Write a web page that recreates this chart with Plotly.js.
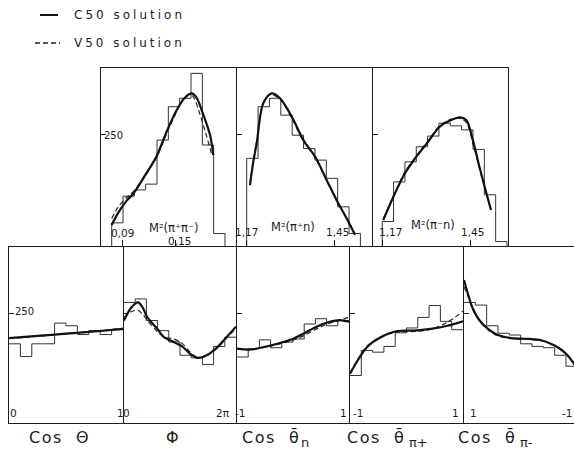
<!DOCTYPE html>
<html><head><meta charset="utf-8">
<script src="https://cdn.plot.ly/plotly-3.0.1.min.js"></script>
<style>
html,body{margin:0;padding:0;background:#fff;}
#chart{width:574px;height:454px;}
g.annotation[data-index="0"] text.annotation-text,
g.annotation[data-index="1"] text.annotation-text{letter-spacing:3px;}
g.annotation[data-index="2"] text.annotation-text,
g.annotation[data-index="3"] text.annotation-text,
g.annotation[data-index="4"] text.annotation-text,
g.annotation[data-index="5"] text.annotation-text,
g.annotation[data-index="6"] text.annotation-text{letter-spacing:1.5px;}
</style></head>
<body><div id="chart"></div>
<script>
// ---------- data ----------
const legendLabels = ['C50 solution', 'V50 solution'];
const axisTitles = ['Cos\u00a0\u00a0Θ', 'Φ', 'Cos\u00a0\u00a0θ̄', 'Cos\u00a0\u00a0θ̄', 'Cos\u00a0\u00a0θ̄'];
const axisSubscripts = ['', '', 'n', 'π+', 'π-'];
const massTitles = ['M²(π⁺π⁻)', 'M²(π⁺n)', 'M²(π⁻n)'];
const topTickLabels = [['0,09', '0,15'], ['1,17', '1,45'], ['1,17', '1,45']];
const topTickVals = [[0.09, 0.15], [1.17, 1.45], [1.17, 1.45]];
const bottomTickLabels = [['0', '1'], ['0', '2π'], ['-1', '1'], ['-1', '1'], ['1', '-1']];
const yTickVal = 250;

// M^2(pi+ pi-)
const m2ppBins = [0.0776, 0.2052];
const m2ppCounts = [52, 112, 126, 139, 238, 313, 332, 388, 227, 28];
const m2ppC50x = [0.0776, 0.085, 0.095, 0.102, 0.115, 0.128, 0.1395, 0.151, 0.160, 0.1677, 0.173, 0.179, 0.1883, 0.192];
const m2ppC50y = [47, 75, 103, 118, 158, 201, 257, 306, 333, 343, 334, 305, 250, 204];
const m2ppV50x = [0.0776, 0.085, 0.095, 0.102, 0.115, 0.128, 0.14, 0.151, 0.158, 0.165, 0.170, 0.176, 0.183, 0.1905];
const m2ppV50y = [62, 88, 110, 122, 157, 199, 255, 303, 330, 342, 334, 302, 257, 204];

// M^2(pi+ n)
const m2pnBins = [1.17, 1.531];
const m2pnCounts = [197, 313, 332, 294, 249, 219, 193, 152, 88, 28];
const m2pnC50x = [1.1805, 1.19, 1.2017, 1.2227, 1.2494, 1.2757, 1.313, 1.35, 1.387, 1.424, 1.4557, 1.4925, 1.5138];
const m2pnC50y = [137, 185, 231, 321, 343, 332, 291, 238, 201, 148, 103, 55, 25];
const m2pnV50x = [1.1805, 1.19, 1.2017, 1.2227, 1.245, 1.2757, 1.313, 1.35, 1.387, 1.424, 1.4557, 1.4925, 1.5138];
const m2pnV50y = [140, 188, 236, 322, 340, 330, 287, 236, 199, 147, 101, 56, 27];

// M^2(pi- n)
const m2mnBins = [1.17, 1.568];
const m2mnCounts = [55, 144, 189, 223, 247, 276, 270, 261, 217, 115, 10];
const m2mnC50x = [1.173, 1.2103, 1.242, 1.279, 1.316, 1.353, 1.390, 1.4167, 1.438, 1.459, 1.480, 1.501, 1.517];
const m2mnC50y = [58, 118, 163, 201, 234, 268, 283, 289, 283, 238, 178, 122, 81];
const m2mnV50y = [60, 120, 166, 203, 236, 270, 285, 287, 278, 232, 175, 120, 82];

// cos Theta
const cthBins = [0, 1];
const cthCounts = [180, 151, 180, 180, 227, 221, 201, 210, 201, 212];
const cthCurveX = [0, 0.25, 0.5, 0.75, 1];
const cthC50y = [193, 198, 203, 208, 214];
const cthV50y = [192, 197, 203, 209, 215];

// Phi
const phiBins = [0, 2 * Math.PI];
const phiCounts = [274, 282, 233, 210, 184, 154, 148, 133, 174, 195];
const phiCurveX = [0, 0.4, 0.79, 1.05, 1.31, 1.87, 2.24, 2.79, 3.26, 3.72, 4.14, 4.64, 5.2, 5.75, 6.283];
const phiC50y = [233, 262, 274, 262, 240, 214, 195, 184, 174, 157, 148, 154, 171, 195, 219];
const phiV50y = [240, 253, 256, 247, 233, 208, 196, 191, 181, 161, 149, 153, 169, 193, 215];

// cos theta_n
const ctnBins = [-1, 1];
const ctnCounts = [150, 169, 189, 171, 184, 191, 225, 237, 221, 233];
const ctnCurveX = [-1, -0.758, -0.405, -0.007, 0.184, 0.42, 0.655, 0.832, 1];
const ctnC50y = [169, 167, 176, 191, 203, 219, 230, 234, 230];
const ctnV50y = [169, 167, 175, 188, 198, 214, 227, 233, 241];

// cos theta_pi+
const ctpBins = [-1, 1];
const ctpCounts = [108, 165, 161, 174, 205, 216, 240, 267, 231, 212];
const ctpCurveX = [-1, -0.865, -0.689, -0.454, -0.16, 0.135, 0.43, 0.724, 1];
const ctpC50y = [112, 142, 174, 195, 209, 210, 214, 221, 231];
const ctpV50y = [112, 144, 176, 196, 207, 208, 213, 229, 254];

// cos theta_pi- (axis runs from 1 to -1)
const ctmBins = [1, -1];
const ctmCounts = [274, 268, 221, 204, 200, 180, 174, 171, 154, 129];
const ctmCurveX = [1, 0.929, 0.841, 0.724, 0.576, 0.4, 0.165, -0.13, -0.364, -0.6, -0.806, -0.952, -1];
const ctmC50y = [325, 293, 259, 233, 214, 200, 193, 191, 188, 176, 157, 133, 125];
const ctmV50y = [310, 287, 257, 232, 212, 198, 192, 190, 187, 176, 158, 134, 126];

// ---------- layout geometry (pixels) ----------
const W = 574, H = 454;
const px = v => v / W, py = v => 1 - v / H;
const topX = [[101, 236], [237, 372], [373, 508]];
const topY = [68, 246];
const botX = [[9, 123], [124, 236], [237, 349], [350, 463], [464, 574]];
const botY = [247, 423];
const xRanges = [[0.06556, 0.2176], [1.1392, 1.5678], [1.1405, 1.5712], [0, 1], [0, 2 * Math.PI], [-1, 1], [-1, 1], [1, -0.942]];

const panels = [
  {bins: m2ppBins, counts: m2ppCounts, sx: m2ppC50x, sy: m2ppC50y, dx: m2ppV50x, dy: m2ppV50y},
  {bins: m2pnBins, counts: m2pnCounts, sx: m2pnC50x, sy: m2pnC50y, dx: m2pnV50x, dy: m2pnV50y},
  {bins: m2mnBins, counts: m2mnCounts, sx: m2mnC50x, sy: m2mnC50y, dx: m2mnC50x, dy: m2mnV50y},
  {bins: cthBins, counts: cthCounts, sx: cthCurveX, sy: cthC50y, dx: cthCurveX, dy: cthV50y},
  {bins: phiBins, counts: phiCounts, sx: phiCurveX, sy: phiC50y, dx: phiCurveX, dy: phiV50y},
  {bins: ctnBins, counts: ctnCounts, sx: ctnCurveX, sy: ctnC50y, dx: ctnCurveX, dy: ctnV50y},
  {bins: ctpBins, counts: ctpCounts, sx: ctpCurveX, sy: ctpC50y, dx: ctpCurveX, dy: ctpV50y},
  {bins: ctmBins, counts: ctmCounts, sx: ctmCurveX, sy: ctmC50y, dx: ctmCurveX, dy: ctmV50y}
];

const INK = '#1c1c1c';
const traces = [];
const layout = {
  width: W, height: H, margin: {l: 0, r: 0, t: 0, b: 0},
  paper_bgcolor: '#fff', plot_bgcolor: 'rgba(0,0,0,0)', showlegend: false,
  font: {family: 'DejaVu Sans, Liberation Sans, sans-serif', color: INK},
  annotations: [], shapes: []
};

// step outline of a histogram; the end drops are left out where they would lie on the frame
function histTrace(bins, counts, range, xa, ya) {
  const n = counts.length, lo = bins[0], hi = bins[1];
  const xs = [], ys = [];
  if (lo !== range[0]) { xs.push(lo); ys.push(0); }
  for (let i = 0; i < n; i++) { xs.push(lo + (hi - lo) * i / n); ys.push(counts[i]); }
  xs.push(hi); ys.push(counts[n - 1]);
  const atEdge = Math.abs(hi - range[0]) < 1e-9 || Math.abs(hi - range[1]) < 1e-9;
  if (!atEdge) { xs.push(hi); ys.push(0); }
  return {x: xs, y: ys, xaxis: xa, yaxis: ya, type: 'scatter', mode: 'lines',
    line: {shape: 'hv', color: '#333', width: 1}, hoverinfo: 'skip', cliponaxis: true};
}

panels.forEach((p, i) => {
  const k = i + 1;
  const xa = k === 1 ? 'x' : 'x' + k, ya = k === 1 ? 'y' : 'y' + k;
  const isTop = i < 3;
  const dx = isTop ? topX[i] : botX[i - 3];
  const dy = isTop ? topY : botY;
  layout[k === 1 ? 'xaxis' : 'xaxis' + k] = {
    domain: [px(dx[0]), px(dx[1])], range: xRanges[i], anchor: ya,
    showline: true, linecolor: INK, linewidth: 1, mirror: true,
    showgrid: false, zeroline: false, fixedrange: true,
    ticks: isTop ? 'inside' : '', tickvals: isTop ? topTickVals[i] : [], ticklen: 6, tickcolor: INK,
    showticklabels: false
  };
  layout[k === 1 ? 'yaxis' : 'yaxis' + k] = {
    domain: [py(dy[1]), py(dy[0])], range: [0, 400], anchor: xa,
    showline: true, linecolor: INK, linewidth: 1, mirror: true,
    showgrid: false, zeroline: false, fixedrange: true,
    ticks: 'inside', tickvals: [yTickVal], ticklen: 5, tickcolor: INK,
    showticklabels: false
  };
  traces.push(histTrace(p.bins, p.counts, xRanges[i], xa, ya));
  traces.push({x: p.dx, y: p.dy, xaxis: xa, yaxis: ya, type: 'scatter', mode: 'lines', name: legendLabels[1],
    line: {shape: 'spline', smoothing: 0.9, color: '#222', width: 1.2, dash: '5px,3px'}, hoverinfo: 'skip'});
  traces.push({x: p.sx, y: p.sy, xaxis: xa, yaxis: ya, type: 'scatter', mode: 'lines', name: legendLabels[0],
    line: {shape: 'spline', smoothing: 0.9, color: '#111', width: 2.2}, hoverinfo: 'skip'});
});

function ann(text, x, y, size, xanchor) {
  return {text: text, x: px(x), y: py(y), xref: 'paper', yref: 'paper',
    xanchor: xanchor || 'center', yanchor: 'middle', align: xanchor === 'left' ? 'left' : 'center',
    showarrow: false, font: {size: size, color: INK}};
}

// legend (indices 0,1)
layout.annotations.push(ann(legendLabels[0], 72, 15, 12, 'left'));
layout.annotations.push(ann(legendLabels[1], 72, 43, 12, 'left'));
layout.shapes.push({type: 'line', xref: 'paper', yref: 'paper', x0: px(40), x1: px(58), y0: py(15), y1: py(15), line: {color: '#111', width: 2}});
layout.shapes.push({type: 'line', xref: 'paper', yref: 'paper', x0: px(35), x1: px(60), y0: py(43), y1: py(43), line: {color: '#222', width: 1.3, dash: '5px,3px'}});

// axis titles (indices 2..6) and their subscripts
const titleLeft = [27, 164, 240, 345, 456];
axisTitles.forEach((t, i) => layout.annotations.push(ann(t, titleLeft[i], 437, 16, 'left')));
const subLeft = [0, 0, 299, 407, 518];
axisSubscripts.forEach((s, i) => { if (s) layout.annotations.push(ann(s, subLeft[i], 442, 13, 'left')); });

// mass labels inside top panels
const massPos = [[174, 228], [292.5, 226.5], [433, 225]];
massTitles.forEach((t, i) => layout.annotations.push(ann(t, massPos[i][0], massPos[i][1], 11.5)));

// top tick labels
const topTickPos = [[[122.5, 233], [179.5, 241]], [[246, 232], [337.5, 232]], [[390, 232], [472.5, 232]]];
topTickLabels.forEach((labs, i) => labs.forEach((l, j) =>
  layout.annotations.push(ann(l, topTickPos[i][j][0], topTickPos[i][j][1], 10.5))));

// bottom tick labels
const botTickPos = [[13, 120.5], [127, 222.5], [240, 343.5], [357.5, 455.5], [473.5, 566.5]];
bottomTickLabels.forEach((labs, i) => labs.forEach((l, j) =>
  layout.annotations.push(ann(l, botTickPos[i][j], 413, 10.5))));

// y tick labels (250)
layout.annotations.push(ann(String(yTickVal), 113.5, 135, 10));
layout.annotations.push(ann(String(yTickVal), 24.5, 311.7, 10));

Plotly.newPlot('chart', traces, layout, {displayModeBar: false, staticPlot: true});
</script></body></html>
